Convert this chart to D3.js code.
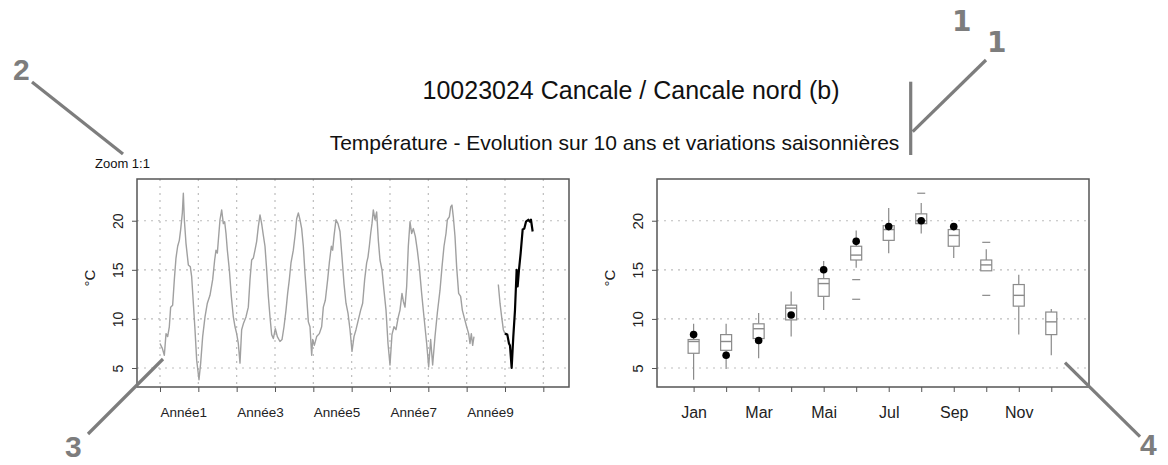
<!DOCTYPE html>
<html><head><meta charset="utf-8">
<script src="https://cdn.jsdelivr.net/npm/d3@7"></script>
<style>
body{margin:0;background:#fff}
svg{display:block}
text{font-family:"Liberation Sans",Arial,Helvetica,sans-serif}
</style>
</head><body>
<svg id="c" width="1168" height="465"></svg>
<script>
// ---------- DATA ----------
// 10-year series (time in years since start, temperature °C); null = gap
const seriesTime = [0.000,0.061,0.113,0.157,0.200,0.243,0.278,0.330,0.374,0.417,0.461,0.504,0.539,0.583,0.609,0.635,0.678,0.739,0.791,0.826,0.870,0.913,0.957,1.017,
1.061,1.113,1.174,1.235,1.304,1.374,1.426,1.461,1.496,1.530,1.565,1.609,1.652,1.687,1.722,1.757,1.809,1.861,1.913,1.957,2.000,2.043,2.087,
2.130,2.174,2.243,2.304,2.348,2.391,2.435,2.478,2.522,2.565,2.609,2.652,2.696,2.739,2.783,2.826,2.870,2.913,2.957,3.009,3.061,3.130,3.183,
3.235,3.287,3.330,3.374,3.417,3.478,3.530,3.565,3.609,3.652,3.696,3.739,3.783,3.826,3.870,3.913,3.957,3.983,4.026,4.087,4.157,4.217,
4.261,4.313,4.374,4.417,4.470,4.504,4.539,4.591,4.643,4.696,4.748,4.800,4.852,4.904,4.957,5.009,5.061,5.113,
5.174,5.235,5.287,5.339,5.391,5.426,5.461,5.496,5.530,5.565,5.609,5.652,5.696,5.739,5.791,5.843,5.896,5.948,6.000,
6.052,6.104,6.157,6.217,6.261,6.313,6.348,6.391,6.435,6.478,6.522,6.565,6.609,6.661,6.713,6.765,6.826,6.887,6.957,7.009,7.061,7.113,
7.174,7.235,7.304,7.357,7.409,7.461,7.496,7.548,7.583,7.617,7.652,7.696,7.739,7.791,7.843,7.887,7.939,8.000,8.052,8.087,8.122,8.157,8.191,
8.500,
8.826,8.870,8.913,8.957,9.000];
const seriesTemp = [7.5,7.0,6.3,8.5,8.2,9.2,11.2,11.4,14.0,16.2,17.4,18.0,19.1,20.8,22.8,20.1,17.7,15.5,15.3,14.3,11.6,8.9,5.8,3.8,
5.5,8.2,10.2,11.6,12.4,14.0,16.0,17.0,16.7,18.4,20.1,21.1,19.7,19.9,18.7,17.0,15.0,12.3,10.2,9.2,8.5,7.5,5.5,
8.9,9.5,10.2,11.2,14.0,16.0,16.2,17.0,17.9,19.4,20.6,19.7,18.5,17.4,15.0,12.3,10.2,8.4,8.0,9.0,8.2,7.7,7.9,
9.2,10.9,12.6,14.0,15.7,17.0,18.7,20.2,20.8,20.1,19.2,17.4,14.6,12.3,9.7,9.2,6.3,7.9,7.3,8.2,8.5,9.2,
11.2,11.9,14.0,15.7,17.4,17.0,18.4,20.1,19.7,18.9,16.3,13.6,11.6,10.6,8.9,6.7,8.2,8.9,
9.9,10.9,11.6,14.0,15.7,16.3,17.4,18.7,19.7,21.1,20.1,20.9,18.0,16.0,15.0,12.9,10.9,7.5,5.3,
8.4,9.2,8.9,10.2,10.9,12.6,11.8,11.2,13.3,17.4,19.9,18.7,19.2,18.4,17.0,15.3,12.6,10.2,7.5,5.1,7.9,5.3,
8.2,10.6,12.9,15.3,17.4,18.7,20.1,20.4,21.4,21.6,20.4,18.4,15.3,12.6,12.3,10.9,10.1,9.2,8.5,7.5,8.5,7.3,8.2,
null,
13.5,11.6,10.2,8.9,8.5];
// current year (highlighted in black)
const currentTime = [9.000,9.061,9.104,9.130,9.174,9.217,9.261,9.304,9.330,9.365,9.409,9.461,9.504,9.548,9.609,9.652,9.678,9.722];
const currentTemp = [8.5,8.4,7.5,7.3,5.0,8.2,10.9,15.0,13.3,15.0,16.7,19.1,19.2,19.9,20.1,19.9,20.1,18.9];
const yearTicks = [0,1,2,3,4,5,6,7,8,9,10];
const yearLabels = ["Année1","","Année3","","Année5","","Année7","","Année9","",""];

// seasonal boxplots
const months = [1,2,3,4,5,6,7,8,9,10,11,12];
const monthLabels = ["Jan","","Mar","","Mai","","Jul","","Sep","","Nov",""];
const boxLow  = [3.8,4.9,6.0,8.2,10.9,15.2,16.7,18.7,16.2,14.9,8.4,6.3];
const boxQ1   = [6.5,6.8,8.0,9.9,12.3,16.0,18.0,19.7,17.4,14.9,11.3,8.4];
const boxMed  = [7.7,7.7,9.0,11.1,13.6,16.5,19.1,20.0,18.5,15.5,12.4,9.7];
const boxQ3   = [7.9,8.4,9.5,11.4,14.1,17.4,19.5,20.7,19.1,16.0,13.5,10.7];
const boxHigh = [9.5,9.5,10.6,12.8,15.9,19.0,21.3,21.8,19.7,17.1,14.5,11.0];
const boxOutliers = [[],[],[],[],[],[14.0,12.0],[],[22.8],[],[17.8,12.4],[],[]];
const currentMonthly = [8.4,6.3,7.8,10.4,15.0,17.9,19.4,20.0,19.4];
const tempTicks = [5,10,15,20];

// ---------- DRAW ----------
const svg = d3.select("#c");
svg.append("rect").attr("width",1168).attr("height",465).attr("fill","#fff");

const frameCol = "#555", gridCol = "#bdbdbd";
const yTop = 179, yBot = 387;
const yScale = d3.scaleLinear().domain([3.065, 24.25]).range([yBot, yTop]);

const L = {x0:137, x1:569};
const R = {x0:657, x1:1089};
const xYear = d3.scaleLinear().domain([-0.6, 10.67]).range([L.x0, L.x1]);
const xMonth = d3.scaleLinear().domain([-0.126, 13.16]).range([R.x0, R.x1]);

function yAxis(x0, fs){
  const g = svg.append("g").attr("transform",`translate(${x0},0)`)
    .call(d3.axisLeft(yScale).tickValues(tempTicks).tickSize(5).tickSizeOuter(0));
  g.select(".domain").remove();
  g.selectAll(".tick line").attr("stroke",frameCol).attr("stroke-width",1);
  g.selectAll(".tick text").attr("dy",null)
    .attr("transform","rotate(-90)").attr("y",-14).attr("x",0)
    .attr("text-anchor","middle").attr("fill","#222").style("font-size",fs+"px")
    .style("font-family",'"Liberation Sans",Arial,sans-serif');
  return g;
}
function hGrid(x0,x1){
  svg.append("g").selectAll("line").data(tempTicks).join("line")
    .attr("x1",x0).attr("x2",x1).attr("y1",d=>yScale(d)).attr("y2",d=>yScale(d))
    .attr("stroke",gridCol).attr("stroke-width",1.2).attr("stroke-dasharray","2,5");
}

// ---- left panel ----
hGrid(L.x0, L.x1);
svg.append("g").selectAll("line").data(yearTicks).join("line")
  .attr("x1",d=>xYear(d)).attr("x2",d=>xYear(d)).attr("y1",yTop).attr("y2",yBot)
  .attr("stroke",gridCol).attr("stroke-width",1.2).attr("stroke-dasharray","2,5");

const line = d3.line().defined(d=>d[1]!==null).x(d=>xYear(d[0])).y(d=>yScale(d[1]));
svg.append("path").datum(seriesTime.map((t,i)=>[t,seriesTemp[i]]))
  .attr("d",line).attr("fill","none").attr("stroke","#a0a0a0").attr("stroke-width",1.4)
  .attr("stroke-linejoin","round");
svg.append("path").datum(currentTime.map((t,i)=>[t,currentTemp[i]]))
  .attr("d",line).attr("fill","none").attr("stroke","#000").attr("stroke-width",2.2)
  .attr("stroke-linejoin","round");

svg.append("rect").attr("x",L.x0).attr("y",yTop).attr("width",L.x1-L.x0).attr("height",yBot-yTop)
  .attr("fill","none").attr("stroke",frameCol).attr("stroke-width",1.5);

const gxL = svg.append("g").attr("transform",`translate(0,${yBot})`)
  .call(d3.axisBottom(xYear).tickValues(yearTicks).tickSize(5).tickFormat((d,i)=>yearLabels[i]));
gxL.select(".domain").remove();
gxL.selectAll(".tick line").attr("stroke",frameCol);
gxL.selectAll(".tick text").attr("text-anchor","start").attr("dy",null)
  .attr("y",30).attr("fill","#222").style("font-size","13.5px");
yAxis(L.x0, 14);
svg.append("text").attr("transform",`translate(95,278) rotate(-90)`).attr("text-anchor","middle")
  .style("font-size","15px").attr("fill","#222").text("°C");

// ---- right panel ----
hGrid(R.x0, R.x1);
const boxCol = "#8a8a8a", bw = 11;
const bg = svg.append("g");
months.forEach((m,i)=>{
  const cx = xMonth(m);
  bg.append("line").attr("x1",cx).attr("x2",cx).attr("y1",yScale(boxLow[i])).attr("y2",yScale(boxQ1[i]))
    .attr("stroke",boxCol).attr("stroke-width",1.2);
  bg.append("line").attr("x1",cx).attr("x2",cx).attr("y1",yScale(boxQ3[i])).attr("y2",yScale(boxHigh[i]))
    .attr("stroke",boxCol).attr("stroke-width",1.2);
  bg.append("rect").attr("x",cx-bw/2).attr("width",bw).attr("y",yScale(boxQ3[i]))
    .attr("height",Math.max(0.5,yScale(boxQ1[i])-yScale(boxQ3[i])))
    .attr("fill","#fff").attr("stroke",boxCol).attr("stroke-width",1.2);
  bg.append("line").attr("x1",cx-bw/2).attr("x2",cx+bw/2).attr("y1",yScale(boxMed[i])).attr("y2",yScale(boxMed[i]))
    .attr("stroke",boxCol).attr("stroke-width",1.4);
  boxOutliers[i].forEach(o=>{
    bg.append("line").attr("x1",cx-4).attr("x2",cx+4).attr("y1",yScale(o)).attr("y2",yScale(o))
      .attr("stroke",boxCol).attr("stroke-width",1.2);
  });
});
svg.append("g").selectAll("circle").data(currentMonthly).join("circle")
  .attr("cx",(d,i)=>xMonth(months[i])).attr("cy",d=>yScale(d)).attr("r",3.8).attr("fill","#000");

svg.append("rect").attr("x",R.x0).attr("y",yTop).attr("width",R.x1-R.x0).attr("height",yBot-yTop)
  .attr("fill","none").attr("stroke",frameCol).attr("stroke-width",1.5);

const gxR = svg.append("g").attr("transform",`translate(0,${yBot})`)
  .call(d3.axisBottom(xMonth).tickValues(months).tickSize(5).tickFormat((d,i)=>monthLabels[i]));
gxR.select(".domain").remove();
gxR.selectAll(".tick line").attr("stroke",frameCol);
gxR.selectAll(".tick text").attr("dy",null).attr("y",31).attr("fill","#222").style("font-size","16px");
yAxis(R.x0, 15);
svg.append("text").attr("transform",`translate(615,278) rotate(-90)`).attr("text-anchor","middle")
  .style("font-size","15px").attr("fill","#222").text("°C");

// ---- titles ----
svg.append("text").attr("x",631).attr("y",99).attr("text-anchor","middle")
  .style("font-size","25px").attr("fill","#111").text("10023024 Cancale / Cancale nord (b)");
svg.append("text").attr("x",614.5).attr("y",150).attr("text-anchor","middle")
  .style("font-size","21px").attr("fill","#111").text("Température - Evolution sur 10 ans et variations saisonnières");
svg.append("text").attr("x",95).attr("y",168).style("font-size","13px").attr("fill","#111").text("Zoom 1:1");

// ---- annotation callouts ----
const ann = "#7d7d7d";
const annLines = [[32,82,123,154],[986,60,912.7,131.7],[910.7,81.7,910.7,155],[88,434,163,359],[1065,362.7,1140,436.7]];
svg.append("g").selectAll("line").data(annLines).join("line")
  .attr("x1",d=>d[0]).attr("y1",d=>d[1]).attr("x2",d=>d[2]).attr("y2",d=>d[3])
  .attr("stroke",ann).attr("stroke-width",3.2);
const annText = [["2",13,80,"Liberation Sans"],["1",952,31,"DejaVu Sans"],["1",987,52,"DejaVu Sans"],["3",65,457,"Liberation Sans"],["4",1140,455,"Liberation Sans"]];
svg.append("g").selectAll("text").data(annText).join("text")
  .attr("x",d=>d[1]).attr("y",d=>d[2]).text(d=>d[0]).attr("fill",ann)
  .style("font-family",d=>`"${d[3]}",sans-serif`).style("font-weight","bold")
  .style("font-size",d=>d[3]==="DejaVu Sans"?"28px":"30px");
</script>
</body></html>
